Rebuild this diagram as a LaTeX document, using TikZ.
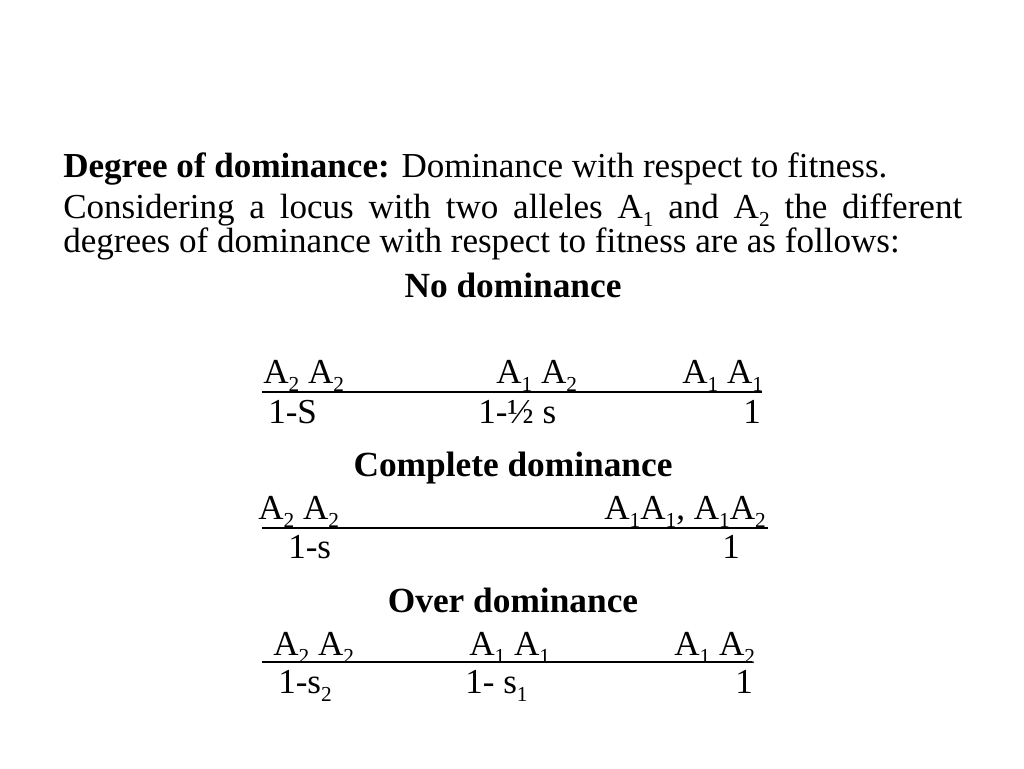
\documentclass[tikz,border=0pt]{standalone}
\usepackage{fontspec}
\setmainfont{Liberation Serif}
\newcommand{\sbs}[1]{\raisebox{-0.25em}{\fontsize{16}{16}\selectfont #1}}
\begin{document}
\begin{tikzpicture}[x=0.75pt,y=-0.75pt,
  txt/.style={anchor=base west,inner sep=0pt,font=\fontsize{26.3}{25.5}\selectfont},
  ctr/.style={anchor=base,inner sep=0pt,font=\fontsize{26.5}{28}\selectfont\bfseries},
  rule/.style={line width=1.2pt}]
\useasboundingbox (0,0) rectangle (1024,768);
\node[txt] (t1) at (63,177) {\textbf{Degree of dominance:} Dominance with respect to fitness.};
\node[txt,text width=674.25pt,align=justify] (t2) at (63,218) {Considering a locus with two alleles A\sbs{1} and A\sbs{2} the different\linebreak degrees of dominance with respect to fitness are as follows:};
\node[ctr] (h1) at (513,297) {No dominance};
\node[txt] (a1) at (263,383) {A\sbs{2} A\sbs{2}};
\node[txt] (a2) at (496,383) {A\sbs{1} A\sbs{2}};
\node[txt] (a3) at (682,383) {A\sbs{1} A\sbs{1}};
\coordinate (l1a) at (262,392); \coordinate (l1b) at (762,392);
\draw[rule] (l1a) -- (l1b);
\node[txt] (b1) at (268,423) {1-S};
\node[txt] (b2) at (478,423) {1-½ s};
\node[txt] (b3) at (743,423) {1};
\node[ctr] (h2) at (513,476) {Complete dominance};
\node[txt] (c1) at (258,519) {A\sbs{2} A\sbs{2}};
\node[txt] (c2) at (604,519) {A\sbs{1}A\sbs{1}, A\sbs{1}A\sbs{2}};
\coordinate (l2a) at (262,528); \coordinate (l2b) at (768,528);
\draw[rule] (l2a) -- (l2b);
\node[txt] (d1) at (288,558) {1-s};
\node[txt] (d2) at (722,558) {1};
\node[ctr] (h3) at (513,612) {Over dominance};
\node[txt] (e1) at (273,655) {A\sbs{2} A\sbs{2}};
\node[txt] (e2) at (469,655) {A\sbs{1} A\sbs{1}};
\node[txt] (e3) at (674,655) {A\sbs{1} A\sbs{2}};
\coordinate (l3a) at (262,662); \coordinate (l3b) at (752,662);
\draw[rule] (l3a) -- (l3b);
\node[txt] (f1) at (278,693) {1-s\sbs{2}};
\node[txt] (f2) at (465,693) {1- s\sbs{1}};
\node[txt] (f3) at (735,693) {1};
\end{tikzpicture}
\end{document}
